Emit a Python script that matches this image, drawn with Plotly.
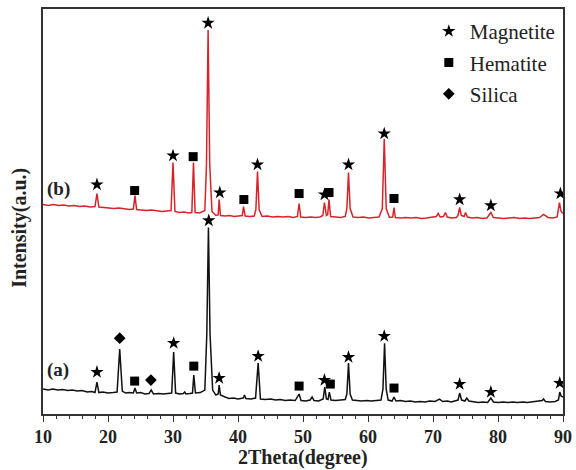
import plotly.graph_objects as go

# ---- Curve (a): black pattern (2Theta, intensity a.u.) ----
a_x = [10.0, 10.8, 11.5, 12.3, 13.0, 13.8, 14.5, 15.3, 16.0, 16.8, 17.5, 18.0, 18.3, 18.6, 19.2, 20.0,
       20.8, 21.4, 21.8, 22.2, 22.7, 23.3, 23.9, 24.15, 24.4, 25.0, 25.7, 26.3, 26.65, 27.0, 27.8, 28.5,
       29.2, 29.8, 30.1, 30.4, 31.0, 31.6, 31.8, 32.0, 32.6, 33.0, 33.2, 33.45, 34.2, 34.9, 35.2, 35.45,
       35.7, 36.1, 36.6, 36.95, 37.1, 37.3, 38.0, 38.6, 39.3, 40.0, 40.8, 41.0, 41.2, 42.0, 42.7, 43.1,
       43.45, 44.2, 45.0, 45.8, 46.5, 47.3, 48.0, 48.8, 49.4, 49.7, 50.4, 51.1, 51.4, 51.7, 52.4, 53.1,
       53.35, 53.6, 53.85, 54.05, 54.3, 55.0, 55.8, 56.5, 56.75, 57.0, 57.25, 57.6, 58.3, 59.0, 59.8,
       60.5, 61.3, 62.0, 62.3, 62.55, 62.8, 63.1, 63.7, 64.0, 64.3, 65.0, 65.8, 66.5, 67.3, 68.0, 68.8,
       69.5, 70.3, 71.0, 71.5, 72.2, 72.8, 73.5, 73.85, 74.1, 74.4, 74.9, 75.2, 75.5, 76.2, 77.0, 77.7,
       78.4, 78.9, 79.3, 80.0, 80.8, 81.5, 82.3, 83.0, 83.8, 84.5, 85.3, 86.0, 86.8, 87.0, 87.3, 88.0,
       88.8, 89.3, 89.5, 89.7, 90.0]
a_y = [25, 24, 25, 24, 24.5, 23.5, 24, 23, 23.5, 22, 22.5, 21.5, 32, 21.5, 22, 21,
       21.5, 22, 65, 23, 21, 21.5, 21, 26, 21, 21.5, 20, 20.5, 24, 20, 20.5, 20,
       20.5, 21, 62, 21, 20, 20.5, 22, 20, 20.5, 21, 39, 21, 21.5, 24, 80, 187,
       80, 24, 19, 20, 29, 19, 17, 15.5, 16, 15, 16, 19, 15.5, 15, 16, 51,
       15, 14.5, 15, 14, 14.5, 13.5, 14, 13.5, 20, 13.5, 13, 14, 17, 13.5, 13, 15,
       27, 15, 14.5, 22, 14, 13.5, 14, 14.5, 20, 51, 20, 14, 13.5, 13, 13.5,
       13, 13.5, 14, 25, 71, 25, 14, 13, 17, 13, 13.5, 12.5, 13, 12, 12.5, 12,
       13, 12.5, 15, 12.5, 13, 12, 13, 14, 21, 14, 13, 16, 13, 12, 11.5, 12,
       11.5, 16, 12, 11.5, 12, 11.5, 12, 11.5, 12, 11.5, 12, 12.5, 13.5, 15, 12.5, 12,
       12.5, 14, 22, 18, 17]

# ---- Curve (b): red pattern ----
b_x = [10.0, 10.8, 11.6, 12.4, 13.2, 14.0, 14.8, 15.6, 16.4, 17.2, 18.0, 18.3, 18.6, 19.3, 20.1, 20.9,
       21.7, 22.5, 23.3, 23.9, 24.15, 24.4, 25.1, 25.9, 26.7, 27.5, 28.3, 29.0, 29.7, 30.0, 30.3, 31.0,
       31.7, 32.4, 32.9, 33.15, 33.4, 34.1, 34.9, 35.15, 35.4, 35.65, 36.0, 36.6, 36.95, 37.1, 37.3, 38.0,
       38.7, 39.4, 40.1, 40.65, 40.85, 41.1, 41.8, 42.5, 42.75, 43.0, 43.25, 43.7, 44.5, 45.3, 46.1, 46.9,
       47.7, 48.5, 49.15, 49.4, 49.65, 50.4, 51.2, 51.9, 52.6, 53.05, 53.3, 53.6, 53.8, 54.0, 54.25, 55.0,
       55.8, 56.5, 56.75, 57.0, 57.25, 57.7, 58.5, 59.3, 60.1, 60.9, 61.7, 62.2, 62.5, 62.8, 63.3, 63.8,
       64.0, 64.2, 65.0, 65.8, 66.6, 67.4, 68.2, 69.0, 69.8, 70.5, 70.8, 71.1, 71.6, 71.9, 72.2, 72.9,
       73.6, 73.85, 74.1, 74.35, 74.8, 75.0, 75.3, 76.0, 76.8, 77.6, 78.3, 78.9, 79.3, 80.1, 80.9, 81.7,
       82.5, 83.3, 84.1, 84.9, 85.7, 86.4, 86.7, 87.0, 87.7, 88.4, 89.1, 89.45, 89.7, 90.0]
b_y = [210, 209, 210, 209, 209.5, 208.5, 209, 208, 208.5, 207.5, 208, 221, 207.5, 207, 206.5, 206,
       206.5, 205.5, 205, 205.5, 219, 205, 204.5, 204, 204.5, 203.5, 203, 203.5, 204, 252, 203, 202,
       202.5, 201.5, 202, 252, 202, 201.5, 204, 250, 385, 250, 203, 199, 199.5, 215, 199, 198.5,
       199, 198, 198.5, 199, 208, 198.5, 198, 198.5, 205, 243, 205, 198, 198.5, 197.5, 198, 197.5,
       198, 197, 198, 211, 197.5, 197, 197.5, 197, 197.5, 199, 212, 199, 200, 215, 198, 197.5,
       197, 198, 206, 242, 206, 197.5, 197, 197.5, 196.5, 197, 197.5, 206, 276, 206, 197, 197.5,
       207, 197, 196.5, 197, 196.5, 197, 196, 196.5, 197, 198, 201, 197.5, 198, 202, 197.5, 196.5,
       197, 199, 207, 199, 198, 202, 197.5, 196.5, 197, 196, 196.5, 202, 197, 196.5, 196, 196.5,
       197, 196, 196.5, 196, 196.5, 197, 198.5, 200, 197, 196.5, 197.5, 212, 203, 201]

# ---- Phase markers: (x = 2Theta, y = marker height) ----
mag_a_x = [18.3, 30.1, 35.5, 37.1, 43.1, 53.3, 57.0, 62.5, 74.1, 78.9, 89.5]
mag_a_y = [42, 71, 194, 36, 58, 34, 57, 78, 30, 22, 31]
hem_a_x = [24.1, 33.2, 49.4, 54.2, 64.0]
hem_a_y = [33, 48, 28, 30, 26]
sil_a_x = [21.8, 26.6]
sil_a_y = [76, 34]

mag_b_x = [18.3, 30.0, 35.4, 37.2, 43.0, 53.3, 57.0, 62.5, 74.1, 78.9, 89.6]
mag_b_y = [230, 259, 392, 222, 250, 220, 250, 281, 215, 209, 221]
hem_b_x = [24.1, 33.1, 40.9, 49.4, 54.0, 64.0]
hem_b_y = [224, 258, 215, 221, 222, 216]

phase_names = ["Magnetite", "Hematite", "Silica"]
sample_labels = ["(a)", "(b)"]
sample_label_x = [10.3, 10.3]
sample_label_y = [44, 226]

x_ticks = [10, 20, 30, 40, 50, 60, 70, 80, 90]

SERIF = "Liberation Serif"

fig = go.Figure()
fig.add_trace(go.Scatter(x=a_x, y=a_y, mode="lines", line=dict(color="#111111", width=1.5),
                         showlegend=False, hoverinfo="skip"))
fig.add_trace(go.Scatter(x=b_x, y=b_y, mode="lines", line=dict(color="#d8232a", width=1.5),
                         showlegend=False, hoverinfo="skip"))

fig.add_trace(go.Scatter(x=mag_a_x + mag_b_x, y=mag_a_y + mag_b_y, mode="markers",
                         marker=dict(symbol="star", size=10, color="black"),
                         name=phase_names[0], legendgroup="m"))
fig.add_trace(go.Scatter(x=hem_a_x + hem_b_x, y=hem_a_y + hem_b_y, mode="markers",
                         marker=dict(symbol="square", size=9, color="black"),
                         name=phase_names[1], legendgroup="h"))
fig.add_trace(go.Scatter(x=sil_a_x, y=sil_a_y, mode="markers",
                         marker=dict(symbol="diamond", size=9, color="black"),
                         name=phase_names[2], legendgroup="s"))

for lab, lx, ly in zip(sample_labels, sample_label_x, sample_label_y):
    fig.add_annotation(x=lx, y=ly, xref="x", yref="y", text=lab, showarrow=False,
                       xanchor="left", yanchor="middle",
                       font=dict(family=SERIF, size=19, color="#222", weight="bold"))

fig.add_annotation(x=0.5, y=-0.1075, xref="paper", yref="paper", text="2Theta(degree)",
                   showarrow=False, xanchor="center", yanchor="middle", borderpad=0,
                   font=dict(family=SERIF, size=20, color="#222", weight="bold"))
fig.add_annotation(x=-0.044, y=0.46, xref="paper", yref="paper", text="Intensity(a.u.)",
                   showarrow=False, textangle=-90, xanchor="center", yanchor="middle",
                   font=dict(family=SERIF, size=20, color="#222", weight="bold"))

fig.update_layout(
    width=576, height=470,
    margin=dict(l=43, r=13, t=9, b=56, autoexpand=False),
    paper_bgcolor="white", plot_bgcolor="white",
    legend=dict(x=0.74, y=0.995, xanchor="left", yanchor="top", itemwidth=32,
                font=dict(family=SERIF, size=21, color="#222"),
                bgcolor="rgba(0,0,0,0)", tracegroupgap=1, traceorder="grouped"),
    xaxis=dict(range=[10, 90], tickvals=x_ticks, ticks="outside", ticklen=6, tickwidth=1.2,
               tickcolor="#333", showline=True, linecolor="#333", linewidth=1.5, mirror=True,
               showgrid=False, zeroline=False, automargin=False,
               tickfont=dict(family=SERIF, size=18, color="#222", weight="bold"),
               minor=dict(dtick=2, ticks="outside", ticklen=3, tickwidth=1, tickcolor="#333")),
    yaxis=dict(range=[0, 406], showticklabels=False, ticks="", showline=True, linecolor="#333",
               linewidth=1.5, mirror=True, showgrid=False, zeroline=False, automargin=False),
)

fig.write_html("out.html", config={"displayModeBar": False},
               post_script="document.body.style.margin='0';document.body.style.overflow='hidden';")
